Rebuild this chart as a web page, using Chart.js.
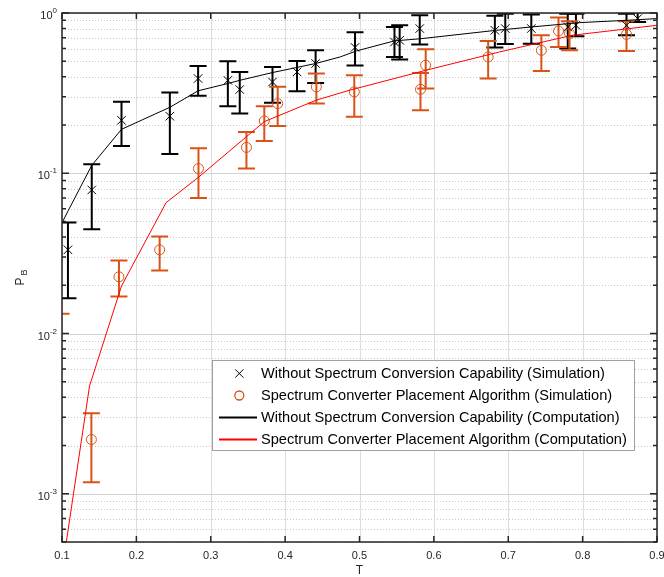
<!DOCTYPE html>
<html><head><meta charset="utf-8">
<script src="https://cdn.jsdelivr.net/npm/chart.js@4.4.0/dist/chart.umd.min.js"></script>
<style>html,body{margin:0;padding:0;background:#fff;overflow:hidden}canvas{display:block}</style>
</head><body><canvas id="c" width="664" height="577"></canvas>
<script>
// ---- data ----
const blackSimT  = [0.108,0.140,0.180,0.245,0.283,0.323,0.339,0.383,0.416,0.441,0.494,0.547,0.554,0.581,0.682,0.696,0.731,0.780,0.791,0.859,0.874];
const blackSimP  = [0.0333,0.0787,0.214,0.227,0.390,0.380,0.333,0.371,0.429,0.484,0.610,0.659,0.676,0.800,0.780,0.800,0.800,0.818,0.838,0.838,0.923];
const blackSimLo = [0.0166,0.0448,0.148,0.132,0.304,0.262,0.236,0.275,0.325,0.366,0.470,0.532,0.512,0.635,0.610,0.640,0.644,0.600,0.716,0.726,0.880];
const blackSimHi = [0.0492,0.1137,0.279,0.319,0.467,0.500,0.429,0.460,0.502,0.586,0.758,0.818,0.838,0.967,0.960,0.990,0.980,0.990,0.990,0.990,1.05];

const redSimT  = [0.0987,0.1395,0.1766,0.2313,0.2835,0.348,0.372,0.390,0.442,0.493,0.582,0.589,0.673,0.7445,0.7676,0.7824,0.859];
const redSimP  = [0.0003,0.00218,0.0226,0.0333,0.107,0.145,0.212,0.272,0.346,0.322,0.334,0.472,0.532,0.585,0.772,0.744,0.736];
const redSimLo = [0.0001,0.00118,0.0170,0.0247,0.070,0.107,0.159,0.197,0.272,0.225,0.247,0.338,0.390,0.435,0.614,0.585,0.580];
const redSimHi = [0.0133,0.00318,0.0285,0.0403,0.143,0.181,0.262,0.346,0.419,0.409,0.423,0.594,0.669,0.726,0.936,0.888,0.888];

const blackCompT = [0.100,0.108,0.140,0.180,0.245,0.283,0.323,0.339,0.383,0.441,0.474,0.496,0.547,0.581,0.684,0.731,0.796,0.859,0.900];
const blackCompP = [0.049,0.058,0.112,0.188,0.258,0.327,0.363,0.380,0.425,0.484,0.532,0.580,0.670,0.690,0.780,0.818,0.871,0.900,0.923];

const redCompT = [0.100,0.137,0.180,0.240,0.283,0.372,0.442,0.487,0.590,0.688,0.786,0.900];
const redCompP = [0.00033,0.0047,0.0198,0.0656,0.094,0.21,0.286,0.33,0.44,0.571,0.726,0.838];

const xTickValues = [0.1,0.2,0.3,0.4,0.5,0.6,0.7,0.8,0.9];
const xTickLabels = ['0.1','0.2','0.3','0.4','0.5','0.6','0.7','0.8','0.9'];
const yTickValues = [0.001,0.01,0.1,1];
const yTickExps   = ['-3','-2','-1','0'];
const legendLabels = [
  'Without Spectrum Conversion Capability (Simulation)',
  'Spectrum Converter Placement Algorithm (Simulation)',
  'Without Spectrum Conversion Capability (Computation)',
  'Spectrum Converter Placement Algorithm (Computation)'
];

// ---- styling ----
const FONT = '"Liberation Sans", Arial, Helvetica, sans-serif';
const AX = '#262626';
const ORANGE = '#D95319';

function pts(T,P){ return T.map((t,i)=>({x:t,y:P[i]})); }

const decorPlugin = {
  id:'decor',
  beforeDatasetsDraw(chart){
    const {ctx, chartArea:a, scales:{x,y}} = chart;
    ctx.save();
    ctx.strokeStyle = '#dcdcdc'; ctx.lineWidth = 1;
    xTickValues.forEach(v=>{ const px=Math.round(x.getPixelForValue(v))+0.5; ctx.beginPath(); ctx.moveTo(px,a.top); ctx.lineTo(px,a.bottom); ctx.stroke(); });
    ctx.strokeStyle = '#c8c8c8'; ctx.setLineDash([1,2]);
    for(let d=-4; d<=0; d++){ for(let k=2;k<=9;k++){ const v=k*Math.pow(10,d); if(v<y.min||v>y.max) continue; const py=Math.round(y.getPixelForValue(v))+0.5; ctx.beginPath(); ctx.moveTo(a.left,py); ctx.lineTo(a.right,py); ctx.stroke(); } }
    ctx.setLineDash([]);
    ctx.strokeStyle = '#d4d4d4';
    yTickValues.forEach(v=>{ const py=Math.round(y.getPixelForValue(v))+0.5; ctx.beginPath(); ctx.moveTo(a.left,py); ctx.lineTo(a.right,py); ctx.stroke(); });
    ctx.beginPath(); ctx.rect(a.left,a.top,a.right-a.left,a.bottom-a.top); ctx.clip();
    const groups = [[blackSimT,blackSimLo,blackSimHi,'#000'],[redSimT,redSimLo,redSimHi,ORANGE]];
    for(const [T,Lo,Hi,col] of groups){
      ctx.strokeStyle = col; ctx.lineWidth = 2;
      T.forEach((t,i)=>{
        const px=x.getPixelForValue(t), p1=y.getPixelForValue(Lo[i]), p2=y.getPixelForValue(Hi[i]), w=8.5;
        ctx.beginPath();
        ctx.moveTo(px,p1); ctx.lineTo(px,p2);
        ctx.moveTo(px-w,p1); ctx.lineTo(px+w,p1);
        ctx.moveTo(px-w,p2); ctx.lineTo(px+w,p2);
        ctx.stroke();
      });
    }
    ctx.restore();
  },
  afterDatasetsDraw(chart){
    const {ctx, chartArea:a, scales:{x,y}} = chart;
    ctx.save();
    ctx.strokeStyle = AX; ctx.fillStyle = AX;
    ctx.lineWidth = 1.5;
    xTickValues.forEach(v=>{ const px=x.getPixelForValue(v); ctx.beginPath(); ctx.moveTo(px,a.bottom); ctx.lineTo(px,a.bottom-6); ctx.moveTo(px,a.top); ctx.lineTo(px,a.top+6); ctx.stroke(); });
    yTickValues.forEach(v=>{ const py=y.getPixelForValue(v); ctx.beginPath(); ctx.moveTo(a.left,py); ctx.lineTo(a.left+7,py); ctx.moveTo(a.right,py); ctx.lineTo(a.right-7,py); ctx.stroke(); });
    for(let d=-4; d<=0; d++){ for(let k=2;k<=9;k++){ const v=k*Math.pow(10,d); if(v<y.min||v>y.max) continue; const py=y.getPixelForValue(v); ctx.beginPath(); ctx.moveTo(a.left,py); ctx.lineTo(a.left+4,py); ctx.moveTo(a.right,py); ctx.lineTo(a.right-4,py); ctx.stroke(); } }
    ctx.lineWidth = 1.5;
    ctx.strokeRect(a.left, a.top, a.right-a.left, a.bottom-a.top);
    ctx.font = '11px '+FONT; ctx.textAlign='center'; ctx.textBaseline='middle';
    xTickValues.forEach((v,i)=>{ ctx.fillText(xTickLabels[i], x.getPixelForValue(v), a.bottom+14); });
    yTickValues.forEach((v,i)=>{
      const py = y.getPixelForValue(v);
      ctx.font = '8px '+FONT; const sw = ctx.measureText(yTickExps[i]).width;
      const right = a.left - 5;
      ctx.textAlign='left'; ctx.textBaseline='middle';
      ctx.fillText(yTickExps[i], right - sw, py - 2);
      ctx.font = '11px '+FONT; ctx.textAlign='right';
      ctx.fillText('10', right - sw, py + 3);
    });
    ctx.font = '12px '+FONT; ctx.textAlign='center'; ctx.textBaseline='middle';
    ctx.fillText('T', (a.left+a.right)/2, 571);
    ctx.save();
    ctx.translate(21, (a.top+a.bottom)/2);
    ctx.rotate(-Math.PI/2);
    ctx.font = '12px '+FONT; ctx.textAlign='left'; ctx.textBaseline='middle';
    const pw = ctx.measureText('P').width;
    ctx.font = '9px '+FONT; const bw = ctx.measureText('B').width;
    const start = -(pw+2+bw)/2;
    ctx.font = '12px '+FONT; ctx.fillText('P', start, 0);
    ctx.font = '9px '+FONT; ctx.fillText('B', start+pw+2, 4);
    ctx.restore();
    ctx.restore();
  },
  afterDraw(chart){
    const {ctx} = chart;
    const L=212.5, T=360.5, R=634.5, B=450.5;
    ctx.save();
    ctx.fillStyle='#fff'; ctx.fillRect(L,T,R-L,B-T);
    ctx.strokeStyle='#a0a0a0'; ctx.lineWidth=1; ctx.strokeRect(L,T,R-L,B-T);
    const rows=[373.5,395.5,417.5,439.5];
    ctx.font='14.6px '+FONT; ctx.fillStyle='#000'; ctx.textAlign='left'; ctx.textBaseline='middle';
    rows.forEach((ry,i)=>{ ctx.fillText(legendLabels[i], 261, ry); });
    const mx=239.3;
    ctx.strokeStyle='#000'; ctx.lineWidth=1;
    const r=5.5;
    ctx.beginPath(); ctx.moveTo(mx-r*0.75,rows[0]-r*0.75); ctx.lineTo(mx+r*0.75,rows[0]+r*0.75); ctx.moveTo(mx-r*0.75,rows[0]+r*0.75); ctx.lineTo(mx+r*0.75,rows[0]-r*0.75); ctx.stroke();
    ctx.strokeStyle=ORANGE; ctx.lineWidth=1.3; ctx.beginPath(); ctx.arc(mx,rows[1],4.5,0,Math.PI*2); ctx.stroke();
    ctx.lineWidth=2;
    ctx.strokeStyle='#000'; ctx.beginPath(); ctx.moveTo(219,rows[2]); ctx.lineTo(257,rows[2]); ctx.stroke();
    ctx.strokeStyle='#ff0000'; ctx.beginPath(); ctx.moveTo(219,rows[3]); ctx.lineTo(257,rows[3]); ctx.stroke();
    ctx.restore();
  }
};

new Chart(document.getElementById('c'), {
  type:'scatter',
  data:{ datasets:[
    { label:legendLabels[0], data:pts(blackSimT,blackSimP), pointStyle:'crossRot', pointRadius:6, borderColor:'#000', backgroundColor:'#000', borderWidth:1, showLine:false, order:3 },
    { label:legendLabels[1], data:pts(redSimT,redSimP), pointStyle:'circle', pointRadius:5, borderColor:ORANGE, backgroundColor:'rgba(0,0,0,0)', borderWidth:1, showLine:false, order:2 },
    { label:legendLabels[2], data:pts(blackCompT,blackCompP), showLine:true, pointRadius:0, borderColor:'#000', borderWidth:1, fill:false, order:1 },
    { label:legendLabels[3], data:pts(redCompT,redCompP), showLine:true, pointRadius:0, borderColor:'#ff0000', borderWidth:1, fill:false, order:0 }
  ]},
  options:{
    responsive:false, animation:false, devicePixelRatio:1,
    layout:{ padding:{ top:13, right:7, left:0, bottom:0 } },
    plugins:{ legend:{display:false}, tooltip:{enabled:false} },
    scales:{
      x:{ type:'linear', min:0.1, max:0.9, ticks:{display:false}, grid:{display:false}, border:{display:false},
          afterFit(s){ s.height = 35; } },
      y:{ type:'logarithmic', min:0.0005, max:1, ticks:{display:false}, grid:{display:false}, border:{display:false},
          afterFit(s){ s.width = 62; } }
    }
  },
  plugins:[decorPlugin]
});
</script>
</body></html>
